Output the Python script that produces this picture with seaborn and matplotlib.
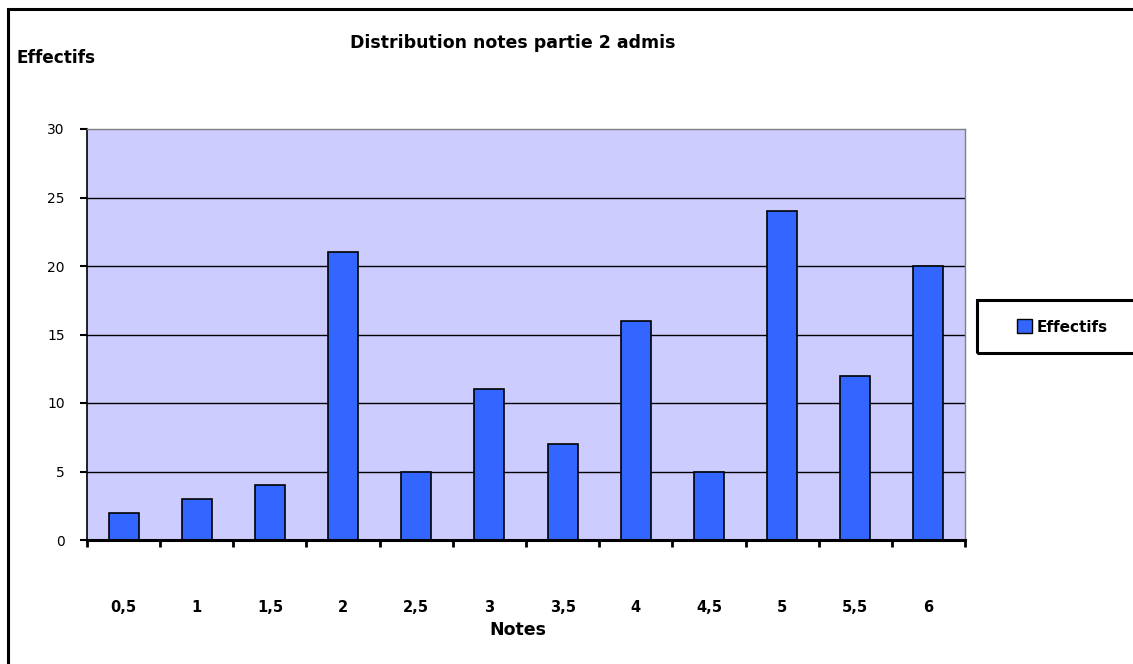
import matplotlib
matplotlib.use("Agg")
import matplotlib.pyplot as plt
from matplotlib.patches import Rectangle, Patch
import pandas as pd
import seaborn as sns

# Grade distribution, part 2, admitted candidates
notes = ["0,5", "1", "1,5", "2", "2,5", "3", "3,5", "4", "4,5", "5", "5,5", "6"]
effectifs = [2, 3, 4, 21, 5, 11, 7, 16, 5, 24, 12, 20]
y_ticks = [0, 5, 10, 15, 20, 25, 30]

sns.set_theme(style="white")
plt.rcParams["font.family"] = ["DejaVu Sans"]
plt.rcParams["text.color"] = "black"
plt.rcParams["xtick.color"] = "black"
plt.rcParams["ytick.color"] = "black"
plt.rcParams["xtick.labelcolor"] = "black"
plt.rcParams["ytick.labelcolor"] = "black"

df = pd.DataFrame({"Notes": notes, "Effectifs": effectifs})

W, H = 1133, 664
fig = plt.figure(figsize=(W / 100, H / 100), dpi=100)
fig.patch.set_facecolor("white")

ax = fig.add_axes([87 / W, 1 - 540 / H, (965 - 87) / W, (540 - 129) / H])
ax.set_facecolor("#CCCCFF")

sns.barplot(data=df, x="Notes", y="Effectifs", color="#3366FF",
            edgecolor="black", linewidth=1.2, width=0.41, saturation=1,
            ax=ax, zorder=3)

ax.set_xlim(-0.5, len(notes) - 0.5)
ax.set_ylim(0, 30)
ax.set_yticks(y_ticks)
ax.set_yticklabels([str(v) for v in y_ticks], fontsize=10, color="black")

# Category labels at centres, tick marks between categories
ax.set_xticks(range(len(notes)))
ax.set_xticklabels(notes, fontsize=10.5, fontweight="bold", color="black")
ax.set_xticks([i - 0.5 for i in range(len(notes) + 1)], minor=True)
ax.tick_params(axis="x", which="major", length=0, pad=43)
ax.tick_params(axis="x", which="minor", bottom=True, length=5, width=2, color="black",
               direction="out")
ax.tick_params(axis="y", which="major", left=True, length=5, width=1.5, color="black",
               direction="out", pad=11)

ax.set_xlabel("")
ax.set_ylabel("")

# Horizontal gridlines behind the bars
ax.set_axisbelow(True)
for v in y_ticks[1:-1]:
    ax.axhline(v, color="black", linewidth=1.0, zorder=1)

for side in ["top", "right"]:
    ax.spines[side].set_visible(True)
    ax.spines[side].set_color("#808080")
    ax.spines[side].set_linewidth(1.0)
ax.spines["left"].set_color("black")
ax.spines["left"].set_linewidth(1.2)
ax.spines["bottom"].set_color("black")
ax.spines["bottom"].set_linewidth(2.2)
ax.spines["bottom"].set_zorder(5)

# Titles and axis captions
fig.text(513 / W, 1 - 43 / H, "Distribution notes partie 2 admis",
         ha="center", va="center", fontsize=12.5, fontweight="bold", color="black")
fig.text(17 / W, 1 - 58 / H, "Effectifs", ha="left", va="center",
         fontsize=12.2, fontweight="bold", color="black")
fig.text(518 / W, 1 - 630 / H, "Notes", ha="center", va="center",
         fontsize=12.5, fontweight="bold", color="black")

# Outer chart frame
fig.patches.append(Rectangle((8 / W, -0.02), 1.05, 1 - 9 / H + 0.02,
                             transform=fig.transFigure, fill=False,
                             edgecolor="black", linewidth=2.2, zorder=0))

# Legend box
fig.patches.append(Rectangle((977 / W, 1 - 353 / H), 0.2, 53 / H,
                             transform=fig.transFigure, fill=False,
                             edgecolor="black", linewidth=2.2, zorder=2))
handle = Patch(facecolor="#3366FF", edgecolor="black", linewidth=1.0)
fig.legend([handle], ["Effectifs"], loc="center left",
           bbox_to_anchor=(1003 / W, 1 - 327 / H), frameon=False,
           handlelength=1.0, handleheight=1.0, handletextpad=0.3,
           prop={"weight": "bold", "size": 11}, labelcolor="black")

fig.savefig("out.png", dpi=100)
